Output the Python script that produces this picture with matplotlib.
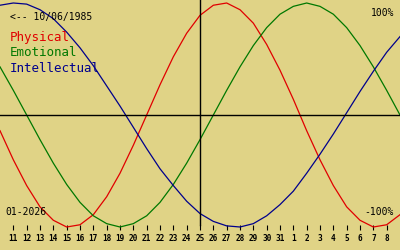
import matplotlib
matplotlib.use('Agg')
import matplotlib.pyplot as plt

# 日期轴：1月11日 ~ 2月8日，图左端为1月10日
day_labels = [str(d) for d in range(11, 32)] + [str(d) for d in range(1, 9)]
day_pos = list(range(1, 30))
today_pos = 15          # 25日

# 各日数值（-1 ~ 1），位置 0..30
physical = [-0.14, -0.40, -0.63, -0.82, -0.94, -1.00, -0.98, -0.89, -0.73, -0.52,
            -0.27, 0.00, 0.27, 0.52, 0.73, 0.89, 0.98, 1.00, 0.94, 0.82,
            0.63, 0.40, 0.14, -0.14, -0.40, -0.63, -0.82, -0.94, -1.00, -0.98, -0.89]
emotional = [0.43, 0.22, 0.00, -0.22, -0.43, -0.62, -0.78, -0.90, -0.97, -1.00,
             -0.97, -0.90, -0.78, -0.62, -0.43, -0.22, 0.00, 0.22, 0.43, 0.62,
             0.78, 0.90, 0.97, 1.00, 0.97, 0.90, 0.78, 0.62, 0.43, 0.22, 0.00]
intellectual = [0.98, 1.00, 0.99, 0.94, 0.86, 0.74, 0.60, 0.44, 0.26, 0.08,
                -0.11, -0.30, -0.48, -0.63, -0.77, -0.88, -0.95, -0.99, -1.00, -0.97,
                -0.90, -0.80, -0.68, -0.52, -0.35, -0.17, 0.02, 0.21, 0.39, 0.56, 0.70]

BG = '#e0d386'
RED = '#e00000'
GREEN = '#007800'
BLUE = '#00008c'
MONO = 'DejaVu Sans Mono'


def main():
    fig = plt.figure(figsize=(4, 2.5), dpi=100, facecolor=BG)
    ax = fig.add_axes([0, 0.1, 1, 0.9])
    ax.set_facecolor(BG)

    x = list(range(len(physical)))
    for vals, col in [(physical, RED), (emotional, GREEN), (intellectual, BLUE)]:
        ax.plot(x, vals, color=col, lw=0.9, clip_on=False)

    # 零线和今天
    ax.axhline(0, color='black', lw=1.0)
    ax.axvline(today_pos, color='black', lw=1.0, ymax=1, clip_on=False)

    ax.set_xlim(0, 30)
    ax.set_ylim(-110 / 112, 115 / 112)
    for s in ax.spines.values():
        s.set_visible(False)

    ax.set_xticks(day_pos)
    ax.set_xticklabels(day_labels, fontfamily=MONO, fontsize=5.6, fontweight='bold')
    ax.tick_params(axis='x', direction='out', length=3.8, width=0.8, pad=2.5, color='black')
    ax.set_yticks([])

    # 文字
    fig.text(10 / 400, 1 - 17 / 250, '<-- 10/06/1985', family=MONO, fontsize=7,
             va='center', ha='left')
    fig.text(10 / 400, 1 - 38 / 250, 'Physical', family=MONO, fontsize=9,
             color=RED, va='center', ha='left')
    fig.text(10 / 400, 1 - 53 / 250, 'Emotional', family=MONO, fontsize=9,
             color=GREEN, va='center', ha='left')
    fig.text(10 / 400, 1 - 68 / 250, 'Intellectual', family=MONO, fontsize=9,
             color=BLUE, va='center', ha='left')
    fig.text(394 / 400, 1 - 13 / 250, '100%', family=MONO, fontsize=7,
             va='center', ha='right')
    fig.text(394 / 400, 1 - 212 / 250, '-100%', family=MONO, fontsize=7,
             va='center', ha='right')
    fig.text(5 / 400, 1 - 212 / 250, '01-2026', family=MONO, fontsize=7,
             va='center', ha='left')

    fig.savefig('out.png', dpi=100, facecolor=BG)
    plt.close(fig)


if __name__ == '__main__':
    main()
